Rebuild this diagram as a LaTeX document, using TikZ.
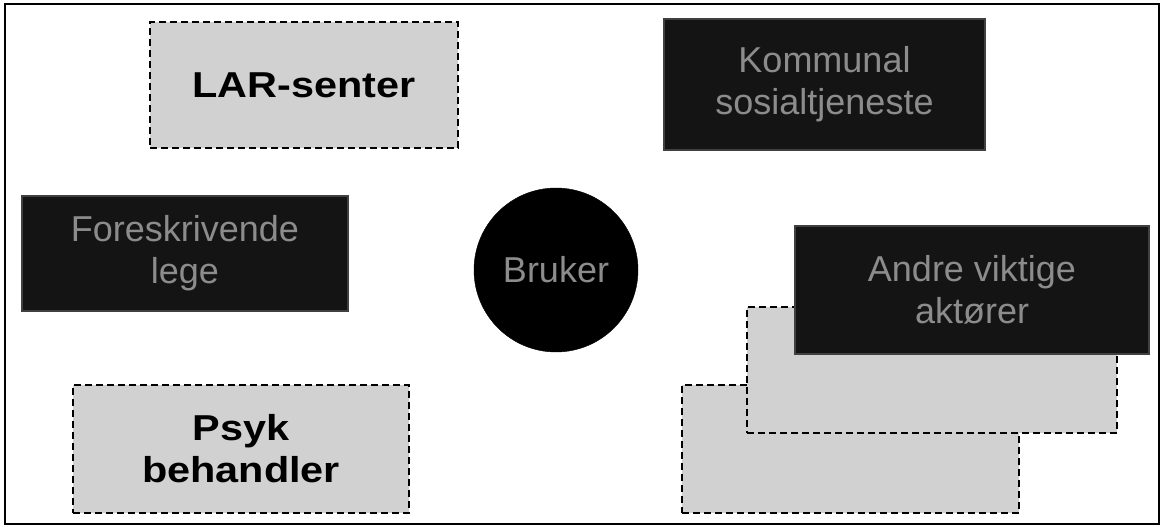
\documentclass[tikz,border=0pt]{standalone}
\usepackage{fontspec}
\setmainfont{Liberation Sans}
\begin{document}
\begin{tikzpicture}[x=1pt,y=-1pt,
  lightbox/.style={draw=black, line width=2.4pt, dash pattern=on 7pt off 4pt, fill=black!18,
    inner sep=0pt, align=center, font=\fontsize{36}{42}\selectfont\bfseries, text=black},
  darkbox/.style={draw=black!75, line width=1.2pt, fill=black!92, inner sep=0pt, align=center,
    font=\fontsize{36}{42}\selectfont, text=black!45},
  darkdot/.style={circle, fill=black, draw=black, inner sep=0pt, minimum size=164pt,
    font=\fontsize{36}{42}\selectfont, text=black!45}]
\useasboundingbox (0,0) rectangle (1164,527);
\node[draw=black, line width=2pt, minimum width=1154pt, minimum height=519pt, inner sep=0pt] (frame) at (582,264) {};
\node[lightbox, minimum width=308pt, minimum height=126pt] (lar) at (304,85) {\scalebox{1.15}[1]{LAR-senter}};
\node[darkbox, minimum width=321pt, minimum height=131pt] (kom) at (824.5,84.5) {Kommunal\\sosialtjeneste};
\node[darkbox, minimum width=326pt, minimum height=115pt] (fore) at (185,253.5) {Foreskrivende\\lege};
\node[darkdot] (bruker) at (556,270) {Bruker};
\node[lightbox, minimum width=337pt, minimum height=128pt] (back2) at (850.5,449) {};
\node[lightbox, minimum width=370pt, minimum height=126pt] (back1) at (932,370) {};
\node[darkbox, minimum width=354pt, minimum height=128pt] (andre) at (972,290) {Andre viktige\\aktører};
\node[lightbox, minimum width=336pt, minimum height=128pt] (psyk) at (241,449) {\scalebox{1.15}[1]{Psyk}\\\scalebox{1.15}[1]{behandler}};
\end{tikzpicture}
\end{document}
